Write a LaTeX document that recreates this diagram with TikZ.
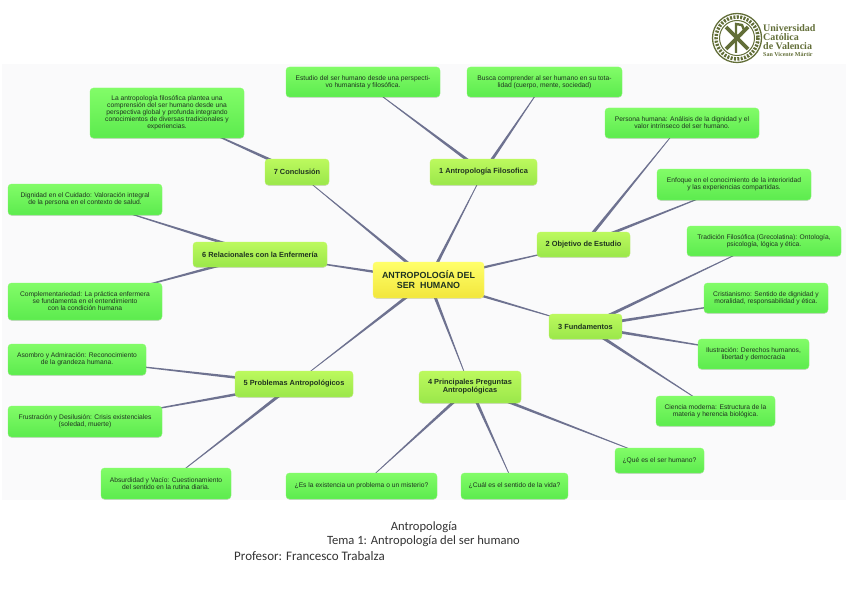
\documentclass[tikz,border=0pt]{standalone}
\usepackage{fontspec}
\setmainfont{Liberation Sans}
\newfontfamily\logofont{Liberation Serif}
\newfontfamily\notefont{Carlito}
\usepackage{xcolor}
\usetikzlibrary{calc,backgrounds,shadows}

\definecolor{linkblue}{HTML}{6E7290}
\definecolor{logogreen}{HTML}{626E38}
\definecolor{panelgrey}{HTML}{FAFAFB}
\definecolor{leaftop}{HTML}{82FC68}
\definecolor{leafbottom}{HTML}{5CEB4E}
\definecolor{branchtop}{HTML}{BCF95E}
\definecolor{branchbottom}{HTML}{9AE74A}
\definecolor{roottop}{HTML}{FFFF6A}
\definecolor{rootbottom}{HTML}{F2E63C}
\definecolor{boxtext}{HTML}{1F3320}

\tikzset{
  mapbox/.style={rounded corners=3.5pt, inner sep=0pt, align=center, text=boxtext,
    drop shadow={shadow xshift=0pt, shadow yshift=-.8pt, opacity=.15, fill=black}},
  leaf/.style={mapbox, top color=leaftop, bottom color=leafbottom,
    draw=leaftop, line width=.3pt, font=\fontsize{6.7}{7}\selectfont},
  branch/.style={mapbox, top color=branchtop, bottom color=branchbottom,
    draw=branchtop, line width=.3pt, font=\fontsize{7.4}{8}\selectfont\bfseries},
  rootbox/.style={mapbox, top color=roottop, bottom color=rootbottom,
    draw=roottop, line width=.3pt, font=\fontsize{8.9}{10}\selectfont\bfseries},
  link/.style={draw=linkblue!70, line width=.5pt},
  logoline/.style={draw=logogreen},
  caption/.style={font=\notefont\fontsize{12.6}{14}\selectfont, text=black!80, inner sep=0pt},
}
\newcommand{\maplink}[2]{%
  \draw[link] (#1) -- (#2);
  \fill[linkblue] ($(#1)!1.7pt!90:(#2)$) -- ($(#1)!1.7pt!-90:(#2)$) -- ($(#2)!.15pt!90:(#1)$) -- ($(#2)!.15pt!-90:(#1)$) -- cycle;
}

\begin{document}
\begin{tikzpicture}[x=1pt, y=-1pt]
  \useasboundingbox (0,0) rectangle (848,599);
  % centre
  \node[rootbox, minimum width=111, minimum height=36] (root) at (428.5,280) {ANTROPOLOGÍA DEL\\SER\ \ HUMANO};
  % main branches
  \node[branch, minimum width=107, minimum height=26] (filosofica) at (483.5,172) {1 Antropología Filosofica};
  \node[branch, minimum width=93, minimum height=25] (objetivo) at (583.5,244.5) {2 Objetivo de Estudio};
  \node[branch, minimum width=73, minimum height=25] (fundamentos) at (585.5,326.5) {3 Fundamentos};
  \node[branch, minimum width=102, minimum height=32] (preguntas) at (470,387) {4 Principales Preguntas\\Antropológicas};
  \node[branch, minimum width=118, minimum height=26] (problemas) at (294,384) {5 Problemas Antropológicos};
  \node[branch, minimum width=134, minimum height=25] (relacionales) at (260,254.5) {6 Relacionales con la Enfermería};
  \node[branch, minimum width=64, minimum height=26] (conclusion) at (297,172) {7 Conclusión};
  % leaves of 1
  \node[leaf, minimum width=154, minimum height=30] (estudio) at (363,82) {Estudio del ser humano desde una perspecti-\\vo humanista y filosófica.};
  \node[leaf, minimum width=155, minimum height=30] (busca) at (544.5,82) {Busca comprender al ser humano en su tota-\\lidad (cuerpo, mente, sociedad)};
  % leaves of 2
  \node[leaf, minimum width=154, minimum height=30] (persona) at (682,123) {Persona humana: Análisis de la dignidad y el\\valor intrínseco del ser humano.};
  \node[leaf, minimum width=154, minimum height=31] (enfoque) at (734,184.5) {Enfoque en el conocimiento de la interioridad\\y las experiencias compartidas.};
  % leaves of 3
  \node[leaf, minimum width=154, minimum height=30] (tradicion) at (764,241) {Tradición Filosófica (Grecolatina): Ontología,\\psicología, lógica y ética.};
  \node[leaf, minimum width=124, minimum height=30] (cristianismo) at (766,298) {Cristianismo: Sentido de dignidad y\\moralidad, responsabilidad y ética.};
  \node[leaf, minimum width=111, minimum height=30] (ilustracion) at (753.5,354) {Ilustración: Derechos humanos,\\libertad y democracia};
  \node[leaf, minimum width=119, minimum height=30] (ciencia) at (715.5,411) {Ciencia moderna: Estructura de la\\materia y herencia biológica.};
  % leaves of 4
  \node[leaf, minimum width=89, minimum height=25] (quees) at (659.5,460.5) {¿Qué es el ser humano?};
  \node[leaf, minimum width=107, minimum height=26] (cual) at (514.5,486) {¿Cuál es el sentido de la vida?};
  \node[leaf, minimum width=151, minimum height=26] (existencia) at (361.5,486) {¿Es la existencia un problema o un misterio?};
  % leaves of 5
  \node[leaf, minimum width=138, minimum height=31] (asombro) at (77,359.5) {Asombro y Admiración: Reconocimiento\\de la grandeza humana.};
  \node[leaf, minimum width=154, minimum height=31] (frustracion) at (85,421.5) {Frustración y Desilusión: Crisis existenciales\\(soledad, muerte)};
  \node[leaf, minimum width=130, minimum height=31] (absurdidad) at (166,483.5) {Absurdidad y Vacío: Cuestionamiento\\del sentido en la rutina diaria.};
  % leaves of 6
  \node[leaf, minimum width=154, minimum height=31] (dignidad) at (85,199.5) {Dignidad en el Cuidado: Valoración integral\\de la persona en el contexto de salud.};
  \node[leaf, minimum width=154, minimum height=37] (complementariedad) at (85,301.5) {Complementariedad: La práctica enfermera\\se fundamenta en el entendimiento\\con la condición humana};
  % leaf of 7
  \node[leaf, minimum width=154, minimum height=50] (plantea) at (167,113) {La antropología filosófica plantea una\\comprensión del ser humano desde una\\perspectiva global y profunda integrando\\conocimientos de diversas tradicionales y\\experiencias.};
  % captions
  \node[caption] (asignatura) at (424,527) {Antropología};
  \node[caption] (tema) at (423.5,541.5) {Tema 1: Antropología del ser humano};
  \node[caption, anchor=west, font=\notefont\fontsize{13}{14}\selectfont] (profesor) at (234,556) {Profesor: Francesco Trabalza};
  % logo
  \coordinate (escudo) at (737,38);
  \draw[logoline, line width=1.3] (escudo) circle[radius=24.5];
  \draw[logoline, line width=1] (escudo) circle[radius=17.5];
  \draw[logoline, line width=3.5, dash pattern=on 2pt off 1.4pt] (escudo) circle[radius=21];
  \draw[logoline, line width=3.8] ($(escudo)+(-11,-11)$) -- ($(escudo)+(11,11)$);
  \draw[logoline, line width=3.8] ($(escudo)+(11,-11)$) -- ($(escudo)+(-11,11)$);
  \draw[logoline, line width=2.4] ($(escudo)+(-1,15)$) -- ($(escudo)+(-1,-14)$) -- ($(escudo)+(5,-13)$) -- ($(escudo)+(7,-8)$) -- ($(escudo)+(4,-3)$) -- ($(escudo)+(-1,-2)$);
  \node[anchor=north west, inner sep=0pt, align=left, text=logogreen, font=\logofont\fontsize{10}{9}\selectfont\bfseries] (universidad) at (763,24) {Universidad\\Católica\\de Valencia\\[-1.5pt]{\fontsize{6}{7}\selectfont San Vicente Mártir}};
  % panel and links go behind the boxes
  \begin{scope}[on background layer]
    \fill[panelgrey] (2,64) rectangle (846,500);
    \maplink{root}{filosofica}
    \maplink{root}{objetivo}
    \maplink{root}{fundamentos}
    \maplink{root}{preguntas}
    \maplink{root}{problemas}
    \maplink{root}{relacionales}
    \maplink{root}{conclusion}
    \maplink{filosofica}{estudio}
    \maplink{filosofica}{busca}
    \maplink{objetivo}{persona}
    \maplink{objetivo}{enfoque}
    \maplink{fundamentos}{tradicion}
    \maplink{fundamentos}{cristianismo}
    \maplink{fundamentos}{ilustracion}
    \maplink{fundamentos}{ciencia}
    \maplink{preguntas}{quees}
    \maplink{preguntas}{cual}
    \maplink{preguntas}{existencia}
    \maplink{problemas}{asombro}
    \maplink{problemas}{frustracion}
    \maplink{problemas}{absurdidad}
    \maplink{relacionales}{dignidad}
    \maplink{relacionales}{complementariedad}
    \maplink{conclusion}{plantea}
  \end{scope}
\end{tikzpicture}
\end{document}
